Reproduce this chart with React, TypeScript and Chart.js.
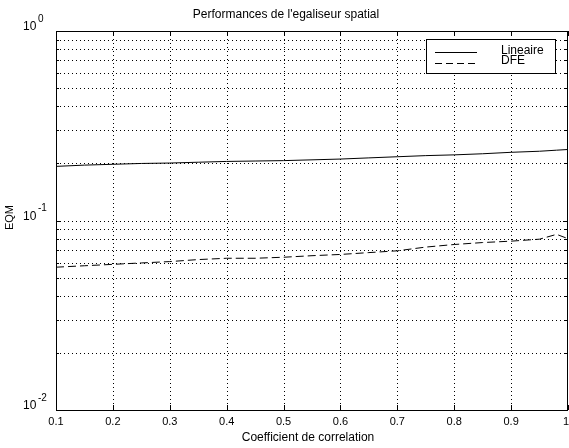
import React, { useEffect, useRef } from "react";
import { Chart, registerables } from "chart.js";

Chart.register(...registerables);

const xValues = [0.1, 0.15, 0.2, 0.25, 0.3, 0.35, 0.4, 0.45, 0.5, 0.55, 0.6, 0.65, 0.7, 0.75, 0.8, 0.85, 0.9, 0.95, 0.98, 1.0];
const lineaire = [0.193, 0.196, 0.198, 0.2, 0.201, 0.203, 0.205, 0.206, 0.207, 0.209, 0.211, 0.214, 0.217, 0.22, 0.222, 0.225, 0.229, 0.232, 0.235, 0.237];
const dfe = [0.0567, 0.0577, 0.0587, 0.0597, 0.0607, 0.0622, 0.0632, 0.0632, 0.064, 0.0652, 0.0662, 0.0677, 0.0692, 0.0724, 0.0747, 0.0765, 0.0778, 0.0797, 0.0845, 0.0802];
const xTicks = [0.1, 0.2, 0.3, 0.4, 0.5, 0.6, 0.7, 0.8, 0.9, 1];
const xTickLabels = ["0.1", "0.2", "0.3", "0.4", "0.5", "0.6", "0.7", "0.8", "0.9", "1"];
const yDecades = [0.01, 0.1, 1];
const yExponents = ["-2", "-1", "0"];
const seriesNames = ["Lineaire", "DFE"];
const titleText = "Performances de l'egaliseur spatial";
const xLabel = "Coefficient de correlation";
const yLabel = "EQM";

const FONT = "'Liberation Sans', Arial, Helvetica, sans-serif";

const decorPlugin = {
  id: "matlabDecor",
  beforeDatasetsDraw(chart: any) {
    const ctx = chart.ctx;
    const xs = chart.scales.x;
    const ys = chart.scales.y;
    const { left, right, top, bottom } = chart.chartArea;
    ctx.save();
    ctx.strokeStyle = "#000";
    ctx.lineWidth = 1;
    // dotted grid
    ctx.setLineDash([1, 3]);
    for (const t of xTicks) {
      if (t === 0.1 || t === 1) continue;
      const px = Math.round(xs.getPixelForValue(t)) + 0.5;
      ctx.beginPath();
      ctx.moveTo(px, top);
      ctx.lineTo(px, bottom);
      ctx.stroke();
    }
    const minors: number[] = [];
    for (const d of [0.01, 0.1]) {
      for (let k = 1; k <= 9; k++) {
        const v = d * k;
        if (v <= 0.01 || v >= 1) continue;
        minors.push(v);
      }
    }
    for (const v of minors) {
      const py = Math.round(ys.getPixelForValue(v)) + 0.5;
      ctx.beginPath();
      ctx.moveTo(left, py);
      ctx.lineTo(right, py);
      ctx.stroke();
    }
    ctx.setLineDash([]);
    // tick marks inward
    for (const t of xTicks) {
      const px = Math.round(xs.getPixelForValue(t)) + 0.5;
      ctx.beginPath();
      ctx.moveTo(px, bottom);
      ctx.lineTo(px, bottom - 5);
      ctx.moveTo(px, top);
      ctx.lineTo(px, top + 5);
      ctx.stroke();
    }
    for (const v of minors) {
      const py = Math.round(ys.getPixelForValue(v)) + 0.5;
      const len = yDecades.includes(v) ? 5 : 3;
      ctx.beginPath();
      ctx.moveTo(left, py);
      ctx.lineTo(left + len, py);
      ctx.moveTo(right, py);
      ctx.lineTo(right - len, py);
      ctx.stroke();
    }
    // frame
    ctx.strokeRect(Math.round(left) + 0.5, Math.round(top) + 0.5, Math.round(right - left) - 1, Math.round(bottom - top));
    // tick labels
    ctx.fillStyle = "#000";
    ctx.font = `11px ${FONT}`;
    ctx.textAlign = "center";
    ctx.textBaseline = "middle";
    xTicks.forEach((t, i) => {
      const px = xs.getPixelForValue(t);
      ctx.fillText(xTickLabels[i], Math.min(px, 566), bottom + 12);
    });
    yDecades.forEach((v, i) => {
      const py = ys.getPixelForValue(v);
      ctx.font = `12px ${FONT}`;
      ctx.textAlign = "left";
      ctx.fillText("10", 23, py - 4);
      ctx.font = `10px ${FONT}`;
      ctx.fillText(yExponents[i], 38, py - 12);
    });
    // title & axis labels
    ctx.font = `12px ${FONT}`;
    ctx.textAlign = "center";
    ctx.fillText(titleText, 286, 15);
    ctx.fillText(xLabel, 308, 438);
    ctx.save();
    ctx.translate(10, (top + bottom) / 2 - 3);
    ctx.rotate(-Math.PI / 2);
    ctx.font = `11px ${FONT}`;
    ctx.fillText(yLabel, 0, 0);
    ctx.restore();
    ctx.restore();
  },
  afterDatasetsDraw(chart: any) {
    const ctx = chart.ctx;
    ctx.save();
    // legend box
    ctx.fillStyle = "#fff";
    ctx.fillRect(426, 39, 130, 34);
    ctx.strokeStyle = "#000";
    ctx.lineWidth = 1;
    ctx.strokeRect(426.5, 39.5, 129, 34);
    ctx.beginPath();
    ctx.moveTo(435, 52.5);
    ctx.lineTo(477, 52.5);
    ctx.stroke();
    ctx.setLineDash([7, 4]);
    ctx.beginPath();
    ctx.moveTo(435, 63.5);
    ctx.lineTo(477, 63.5);
    ctx.stroke();
    ctx.setLineDash([]);
    ctx.fillStyle = "#000";
    ctx.font = `12px ${FONT}`;
    ctx.textAlign = "left";
    ctx.textBaseline = "middle";
    ctx.fillText(seriesNames[0], 501, 51);
    ctx.fillText(seriesNames[1], 501, 61);
    ctx.restore();
  },
};

export default function App() {
  const ref = useRef<HTMLCanvasElement | null>(null);
  useEffect(() => {
    if (!ref.current) return;
    const chart = new Chart(ref.current, {
      type: "line",
      data: {
        datasets: [
          {
            label: seriesNames[0],
            data: xValues.map((x, i) => ({ x, y: lineaire[i] })),
            borderColor: "#000",
            borderWidth: 1,
            pointRadius: 0,
            tension: 0,
            fill: false,
          },
          {
            label: seriesNames[1],
            data: xValues.map((x, i) => ({ x, y: dfe[i] })),
            borderColor: "#000",
            borderWidth: 1,
            borderDash: [8, 4],
            pointRadius: 0,
            tension: 0,
            fill: false,
          },
        ],
      },
      options: {
        animation: false,
        responsive: false,
        devicePixelRatio: 1,
        layout: { padding: { left: 56, top: 31, right: 1, bottom: 38 } },
        plugins: { legend: { display: false }, tooltip: { enabled: false }, title: { display: false } },
        scales: {
          x: {
            type: "linear",
            min: 0.1,
            max: 1,
            grid: { display: false, drawTicks: false },
            border: { display: false },
            ticks: { display: false },
            afterFit: (s: any) => { s.height = 0; },
          },
          y: {
            type: "logarithmic",
            min: 0.01,
            max: 1,
            grid: { display: false, drawTicks: false },
            border: { display: false },
            ticks: { display: false },
            afterFit: (s: any) => { s.width = 0; },
          },
        },
      },
      plugins: [decorPlugin],
    });
    return () => chart.destroy();
  }, []);
  return (
    <div style={{ position: "absolute", left: 0, top: 0, width: 569, height: 448, background: "#fff" }}>
      <canvas ref={ref} width={569} height={448} style={{ display: "block" }} />
    </div>
  );
}
